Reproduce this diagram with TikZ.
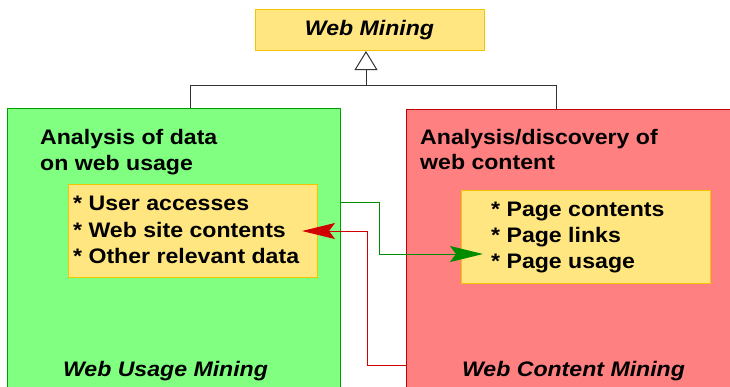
\documentclass[tikz,border=0pt]{standalone}
\usepackage{fontspec}
\setmainfont[FakeStretch=1.1]{Liberation Sans}
\usetikzlibrary{arrows.meta}
\definecolor{boxyellow}{HTML}{FFE680}
\definecolor{yellowedge}{HTML}{F5C400}
\definecolor{usagegreen}{HTML}{80FF80}
\definecolor{greenedge}{HTML}{00A000}
\definecolor{contentred}{HTML}{FF8080}
\definecolor{rededge}{HTML}{C00000}
\definecolor{arrowgreen}{HTML}{008C00}
\definecolor{arrowred}{HTML}{D00000}
\definecolor{hierline}{HTML}{333333}
\begin{document}
\begin{tikzpicture}[x=1pt,y=-1pt,
  txt/.style={font=\fontsize{21}{26}\selectfont\bfseries, inner sep=0pt, anchor=base west},
  ititle/.style={font=\fontsize{21}{26}\selectfont\bfseries\itshape, inner sep=0pt, anchor=base},
  yellowbox/.style={draw=yellowedge, fill=boxyellow, line width=1pt, inner sep=0pt, anchor=north west},
  usagebox/.style={draw=greenedge, fill=usagegreen, line width=1pt, inner sep=0pt, anchor=north west},
  contentbox/.style={draw=rededge, fill=contentred, line width=1pt, inner sep=0pt, anchor=north west},
  hier/.style={draw=hierline, line width=1pt},
  garrow/.style={draw=arrowgreen, line width=1pt, -{Stealth[length=33pt,width=16pt,inset=6pt,fill=arrowgreen]}},
  rarrow/.style={draw=arrowred, line width=1pt, -{Stealth[length=33pt,width=16pt,inset=6pt,fill=arrowred]}}]
\clip (0,0) rectangle (730,386);
\fill[white] (0,0) rectangle (730,386);

% top box
\node[yellowbox, minimum width=229pt, minimum height=41pt] (top) at (255,9) {};
\node[ititle] (toptxt) at (369.5,35.5) {Web Mining};

% big boxes
\node[usagebox, minimum width=333pt, minimum height=300pt] (usage) at (7,108) {};
\node[contentbox, minimum width=340pt, minimum height=300pt] (content) at (405.5,108.5) {};

% hierarchy
\coordinate (j) at (366,85);
\coordinate (ul) at (190,85);
\coordinate (cl) at (556,85);
\draw[hier] (usage.north -| ul) -- (ul) -- (cl) -- (content.north -| cl);
\draw[hier, -{Triangle[open, length=19pt, width=23pt, fill=white]}] (j) -- (top.south -| j);

% usage texts
\node[txt] (u1) at (40,144) {Analysis of data};
\node[txt] (u2) at (40,170) {on web usage};
\node[yellowbox, minimum width=249pt, minimum height=93pt] (ulist) at (68,184) {};
\node[txt] (ul1) at (73,210) {* User accesses};
\node[txt] (ul2) at (73,237) {* Web site contents};
\node[txt] (ul3) at (73,263) {* Other relevant data};
\node[ititle] (ubot) at (165.5,376) {Web Usage Mining};

% content texts
\node[txt] (c1) at (420,144) {Analysis/discovery of};
\node[txt] (c2) at (420,169) {web content};
\node[yellowbox, minimum width=249pt, minimum height=93pt] (clist) at (461,190) {};
\node[txt] (cl1) at (491,216) {* Page contents};
\node[txt] (cl2) at (491,242) {* Page links};
\node[txt] (cl3) at (491,268) {* Page usage};
\node[ititle] (cbot) at (573.5,376) {Web Content Mining};

% connectors
\coordinate (gs) at (340.5,202);
\coordinate (gt) at (483,254);
\draw[garrow] (gs) -| (379,254) -- (gt);
\coordinate (rs) at (405.5,365);
\coordinate (rt) at (302,231);
\draw[rarrow] (rs) -| (367,231) -- (rt);
\end{tikzpicture}
\end{document}
